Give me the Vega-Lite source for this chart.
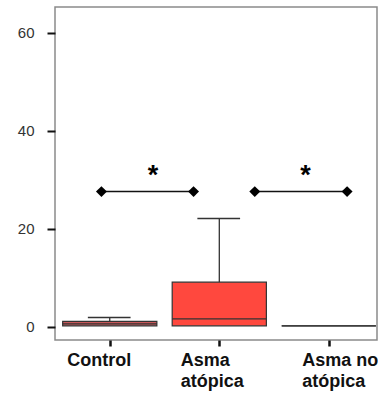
{
  "$schema": "https://vega.github.io/schema/vega-lite/v6.json",
  "autosize": {"type": "none"},
  "padding": {"left": 55, "top": 7, "right": 1, "bottom": 55},
  "width": 322,
  "height": 333,
  "background": "white",
  "config": {
    "view": {"stroke": "#8a8a8a", "strokeWidth": 1.5},
    "font": "Liberation Sans"
  },
  "datasets": {
    "boxes": [
      {"group": "Control", "lo": 0.57, "hi": 1.43, "q1": 0.2, "q3": 1.1, "median": 0.6, "center": 1, "wtop": 1.9, "caplo": 0.8, "caphi": 1.19},
      {"group": "Asma atópica", "lo": 1.57, "hi": 2.43, "q1": 0.2, "q3": 9.1, "median": 1.6, "center": 2, "wtop": 22.1, "caplo": 1.8, "caphi": 2.19},
      {"group": "Asma no atópica", "lo": 2.57, "hi": 3.43, "q1": 0.2, "q3": 0.2, "median": 0.2, "center": 3, "wtop": 0.2, "caplo": 3, "caphi": 3}
    ],
    "sig": [
      {"pair": "a", "x1": 0.924, "x2": 1.765, "y": 27.6, "star": 1.395, "ystar": 32},
      {"pair": "b", "x1": 2.324, "x2": 3.167, "y": 27.6, "star": 2.787, "ystar": 32}
    ],
    "ends": [
      {"x": 0.924, "y": 27.6},
      {"x": 1.765, "y": 27.6},
      {"x": 2.324, "y": 27.6},
      {"x": 3.167, "y": 27.6}
    ]
  },
  "layer": [
    {
      "data": {"name": "boxes"},
      "mark": {"type": "rule", "stroke": "#222", "strokeWidth": 1.2},
      "encoding": {
        "x": {"field": "center", "type": "quantitative", "scale": {"domain": [0.5, 3.44], "nice": false, "zero": false},
          "axis": {
            "values": [1, 2, 3],
            "title": null,
            "grid": false,
            "domain": false,
            "tickColor": "#111",
            "tickWidth": 2.5,
            "tickSize": 6,
            "labelExpr": "datum.value == 1 ? 'Control' : datum.value == 2 ? ['Asma', 'atópica'] : ['Asma no', 'atópica']",
            "labelFont": "Liberation Sans",
            "labelFontWeight": "bold",
            "labelFontSize": 18,
            "labelColor": "#111",
            "labelAlign": "left",
            "labelBaseline": "top",
            "labelLineHeight": 21.5,
            "labelPadding": 5,
            "labelOffset": {"condition": [{"test": "datum.value == 1", "value": -43}, {"test": "datum.value == 3", "value": -27}], "value": -39},
            "labelFlush": false,
            "labelOverlap": false
          }
        },
        "y": {"field": "q3", "type": "quantitative", "scale": {"domain": [-2.7, 65.3], "nice": false, "zero": false},
          "axis": {
            "values": [0, 20, 40, 60],
            "title": null,
            "grid": false,
            "domain": false,
            "tickColor": "#111",
            "tickWidth": 2,
            "tickSize": 8,
            "labelFont": "Liberation Sans",
            "labelFontSize": 15,
            "labelColor": "#333",
            "labelPadding": 13
          }
        },
        "y2": {"field": "wtop"}
      }
    },
    {
      "data": {"name": "boxes"},
      "mark": {"type": "rule", "stroke": "#333", "strokeWidth": 1.5},
      "encoding": {
        "x": {"field": "caplo", "type": "quantitative"},
        "x2": {"field": "caphi"},
        "y": {"field": "wtop", "type": "quantitative"}
      }
    },
    {
      "data": {"name": "boxes"},
      "mark": {"type": "bar", "stroke": "#333", "strokeWidth": 1.2},
      "encoding": {
        "x": {"field": "lo", "type": "quantitative"},
        "x2": {"field": "hi"},
        "y": {"field": "q1", "type": "quantitative"},
        "y2": {"field": "q3"},
        "fill": {"field": "group", "type": "nominal", "legend": null,
          "scale": {"domain": ["Control", "Asma atópica", "Asma no atópica"], "range": ["#c9585a", "#ff483e", "#ffffff"]}}
      }
    },
    {
      "data": {"name": "boxes"},
      "mark": {"type": "rule", "stroke": "#333", "strokeWidth": 1.2},
      "encoding": {
        "x": {"field": "lo", "type": "quantitative"},
        "x2": {"field": "hi"},
        "y": {"field": "median", "type": "quantitative"}
      }
    },
    {
      "data": {"name": "sig"},
      "mark": {"type": "rule", "stroke": "#111", "strokeWidth": 1.5},
      "encoding": {
        "x": {"field": "x1", "type": "quantitative"},
        "x2": {"field": "x2"},
        "y": {"field": "y", "type": "quantitative"}
      }
    },
    {
      "data": {"name": "ends"},
      "mark": {"type": "point", "shape": "diamond", "filled": true, "color": "#000", "size": 120, "opacity": 1},
      "encoding": {
        "x": {"field": "x", "type": "quantitative"},
        "y": {"field": "y", "type": "quantitative"}
      }
    },
    {
      "data": {"name": "sig"},
      "mark": {"type": "text", "text": "*", "fontSize": 27, "fontWeight": "bold", "font": "Liberation Sans", "color": "#000", "baseline": "middle", "align": "center", "dy": 6},
      "encoding": {
        "x": {"field": "star", "type": "quantitative"},
        "y": {"field": "ystar", "type": "quantitative"}
      }
    }
  ]
}
